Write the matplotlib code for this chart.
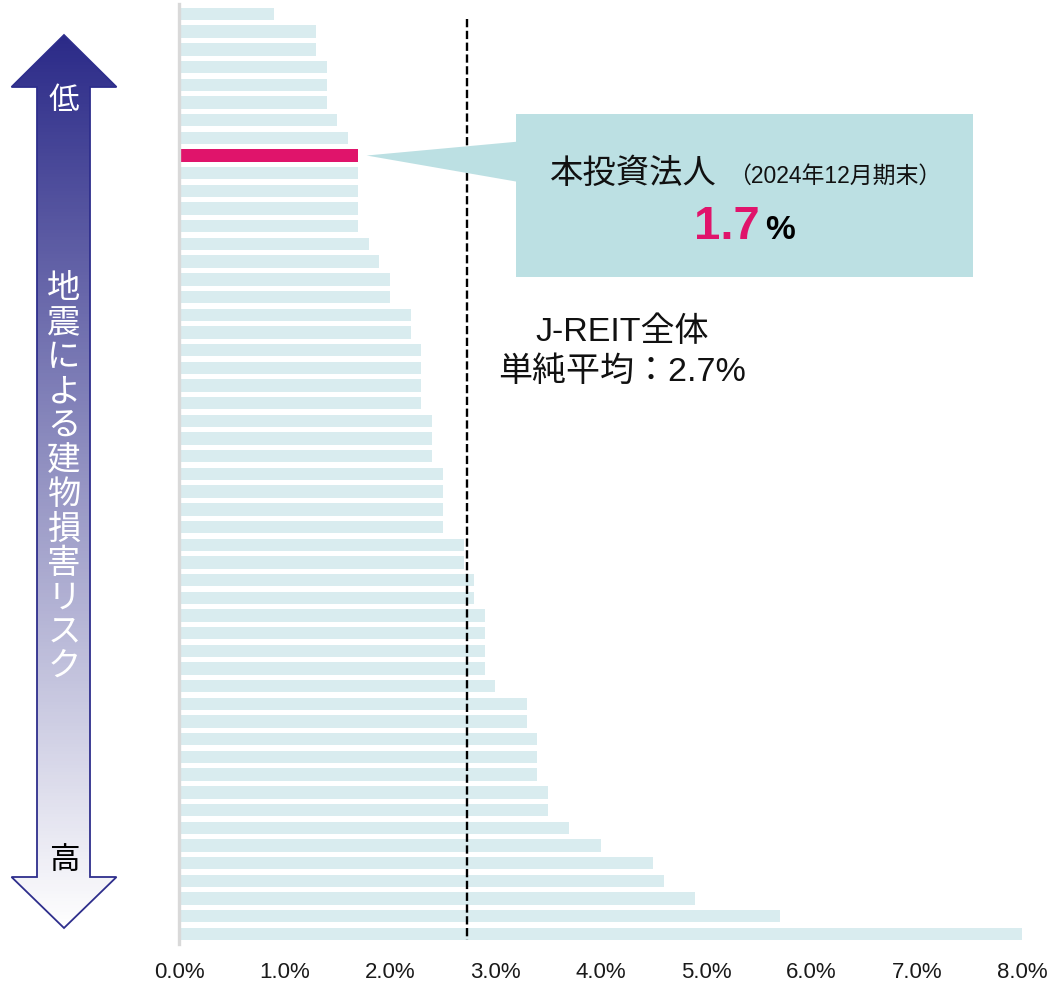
import numpy as np
import matplotlib.pyplot as plt
from matplotlib.patches import Polygon, Rectangle
from matplotlib.colors import LinearSegmentedColormap

plt.rcParams['font.family'] = ['Liberation Sans', 'Noto Sans CJK JP', 'DejaVu Sans']

# 地震PML値（%）、J-REIT各投資法人を低い順に
pml = [0.9, 1.3, 1.3, 1.4, 1.4, 1.4, 1.5, 1.6, 1.7, 1.7, 1.7, 1.7, 1.7, 1.8, 1.9, 2.0, 2.0,
       2.2, 2.2, 2.3, 2.3, 2.3, 2.3, 2.4, 2.4, 2.4, 2.5, 2.5, 2.5, 2.5, 2.7, 2.7, 2.8, 2.8,
       2.9, 2.9, 2.9, 2.9, 3.0, 3.3, 3.3, 3.4, 3.4, 3.4, 3.5, 3.5, 3.7, 4.0, 4.5, 4.6, 4.9,
       5.7, 8.0]
hl_idx = 8            # 本投資法人
avg = 2.73            # 単純平均の破線位置
avg_label = '2.7%'
xticks = [0, 1, 2, 3, 4, 5, 6, 7, 8]
xticklabels = ['%.1f%%' % v for v in xticks]

base_col = '#d9ecef'
hl_col = '#e0146b'
box_col = '#bce0e3'
navy = '#2e2e8c'

W, H = 1047, 984
fig = plt.figure(figsize=(W / 100, H / 100), dpi=100)

# 軸の位置（ピクセル）
x0, ppu, xmax = 179, 105.4, 8.1
y_top, y_bot, c0, pitch = 4, 944, 14, 17.69
n = len(pml)

ax = fig.add_axes([x0 / W, (H - y_bot) / H, xmax * ppu / W, (y_bot - y_top) / H])
idx = np.arange(n)
colors = [hl_col if i == hl_idx else base_col for i in idx]
ax.barh(idx, pml, height=0.7, color=colors, zorder=1)
ax.set_xlim(0, xmax)
ax.set_ylim((y_bot - c0) / pitch, (y_top - c0) / pitch)
ax.vlines(avg, (19 - c0) / pitch, (940 - c0) / pitch, colors='black',
          linewidth=1.7, linestyles=(0, (3.5, 1.5)), zorder=3)

for s in ['top', 'right', 'bottom']:
    ax.spines[s].set_visible(False)
ax.spines['left'].set_color('#d9d9d9')
ax.spines['left'].set_linewidth(2.4)
ax.set_yticks([])
ax.set_xticks(xticks)
ax.set_xticklabels(xticklabels)
ax.tick_params(axis='x', length=0, pad=13, labelsize=16, labelcolor='#1a1a1a')

# 装飾用のオーバーレイ（ピクセル座標）
ov = fig.add_axes([0, 0, 1, 1], zorder=5)
ov.patch.set_alpha(0)

arrow_pts = [(64, 35), (116.5, 87), (90, 87), (90, 877), (116.5, 877), (64, 928),
             (11.5, 877), (37, 877), (37, 87), (11.5, 87)]
arrow = Polygon(arrow_pts, closed=True, facecolor='none', edgecolor=navy, linewidth=1.3, zorder=2)
ov.add_patch(arrow)
cmap = LinearSegmentedColormap.from_list('arr', ['#2b2a88', '#ffffff'])
grad = np.linspace(0, 1, 256).reshape(-1, 1)
im = ov.imshow(grad, extent=[11, 117, 929, 34], cmap=cmap, aspect='auto', zorder=1)
im.set_clip_path(arrow)

ov.set_xlim(0, W)
ov.set_ylim(H, 0)
ov.axis('off')

ov.text(64, 101, '低', ha='center', va='center', color='white', fontsize=22, zorder=3)
ov.text(64, 861, '高', ha='center', va='center', color='black', fontsize=22, zorder=3)
for i, ch in enumerate('地震による建物損害リスク'):
    ov.text(64, 290 + i * 34.3, ch, ha='center', va='center', color='white', fontsize=24, zorder=3)

# 吹き出し
tip = ov.transData.inverted().transform(ax.transData.transform((pml[hl_idx] + 0.08, hl_idx)))
ov.add_patch(Rectangle((516, 114), 457, 163, facecolor=box_col, edgecolor='none', zorder=1))
ov.add_patch(Polygon([(517, 141.7), tuple(tip), (517, 181.7)], closed=True,
                     facecolor=box_col, edgecolor='none', zorder=1))
ov.text(550, 183, '本投資法人', ha='left', va='baseline', fontsize=24, color='#111111', zorder=3)
ov.text(728, 183, '（2024年12月期末）', ha='left', va='baseline', fontsize=16.5, color='#111111', zorder=3)
ov.text(694, 239, '%.1f' % pml[hl_idx], ha='left', va='baseline', fontsize=34,
        fontweight='bold', color=hl_col, zorder=3)
ov.text(765, 239, '%', ha='left', va='baseline', fontsize=24, fontweight='bold', color='black', zorder=3)

ov.text(622, 332, 'J-REIT全体', ha='center', va='center', fontsize=24.5, color='#111111')
ov.text(622, 372, '単純平均：' + avg_label, ha='center', va='center', fontsize=24.5, color='#111111')

fig.savefig('out.png', dpi=100)
